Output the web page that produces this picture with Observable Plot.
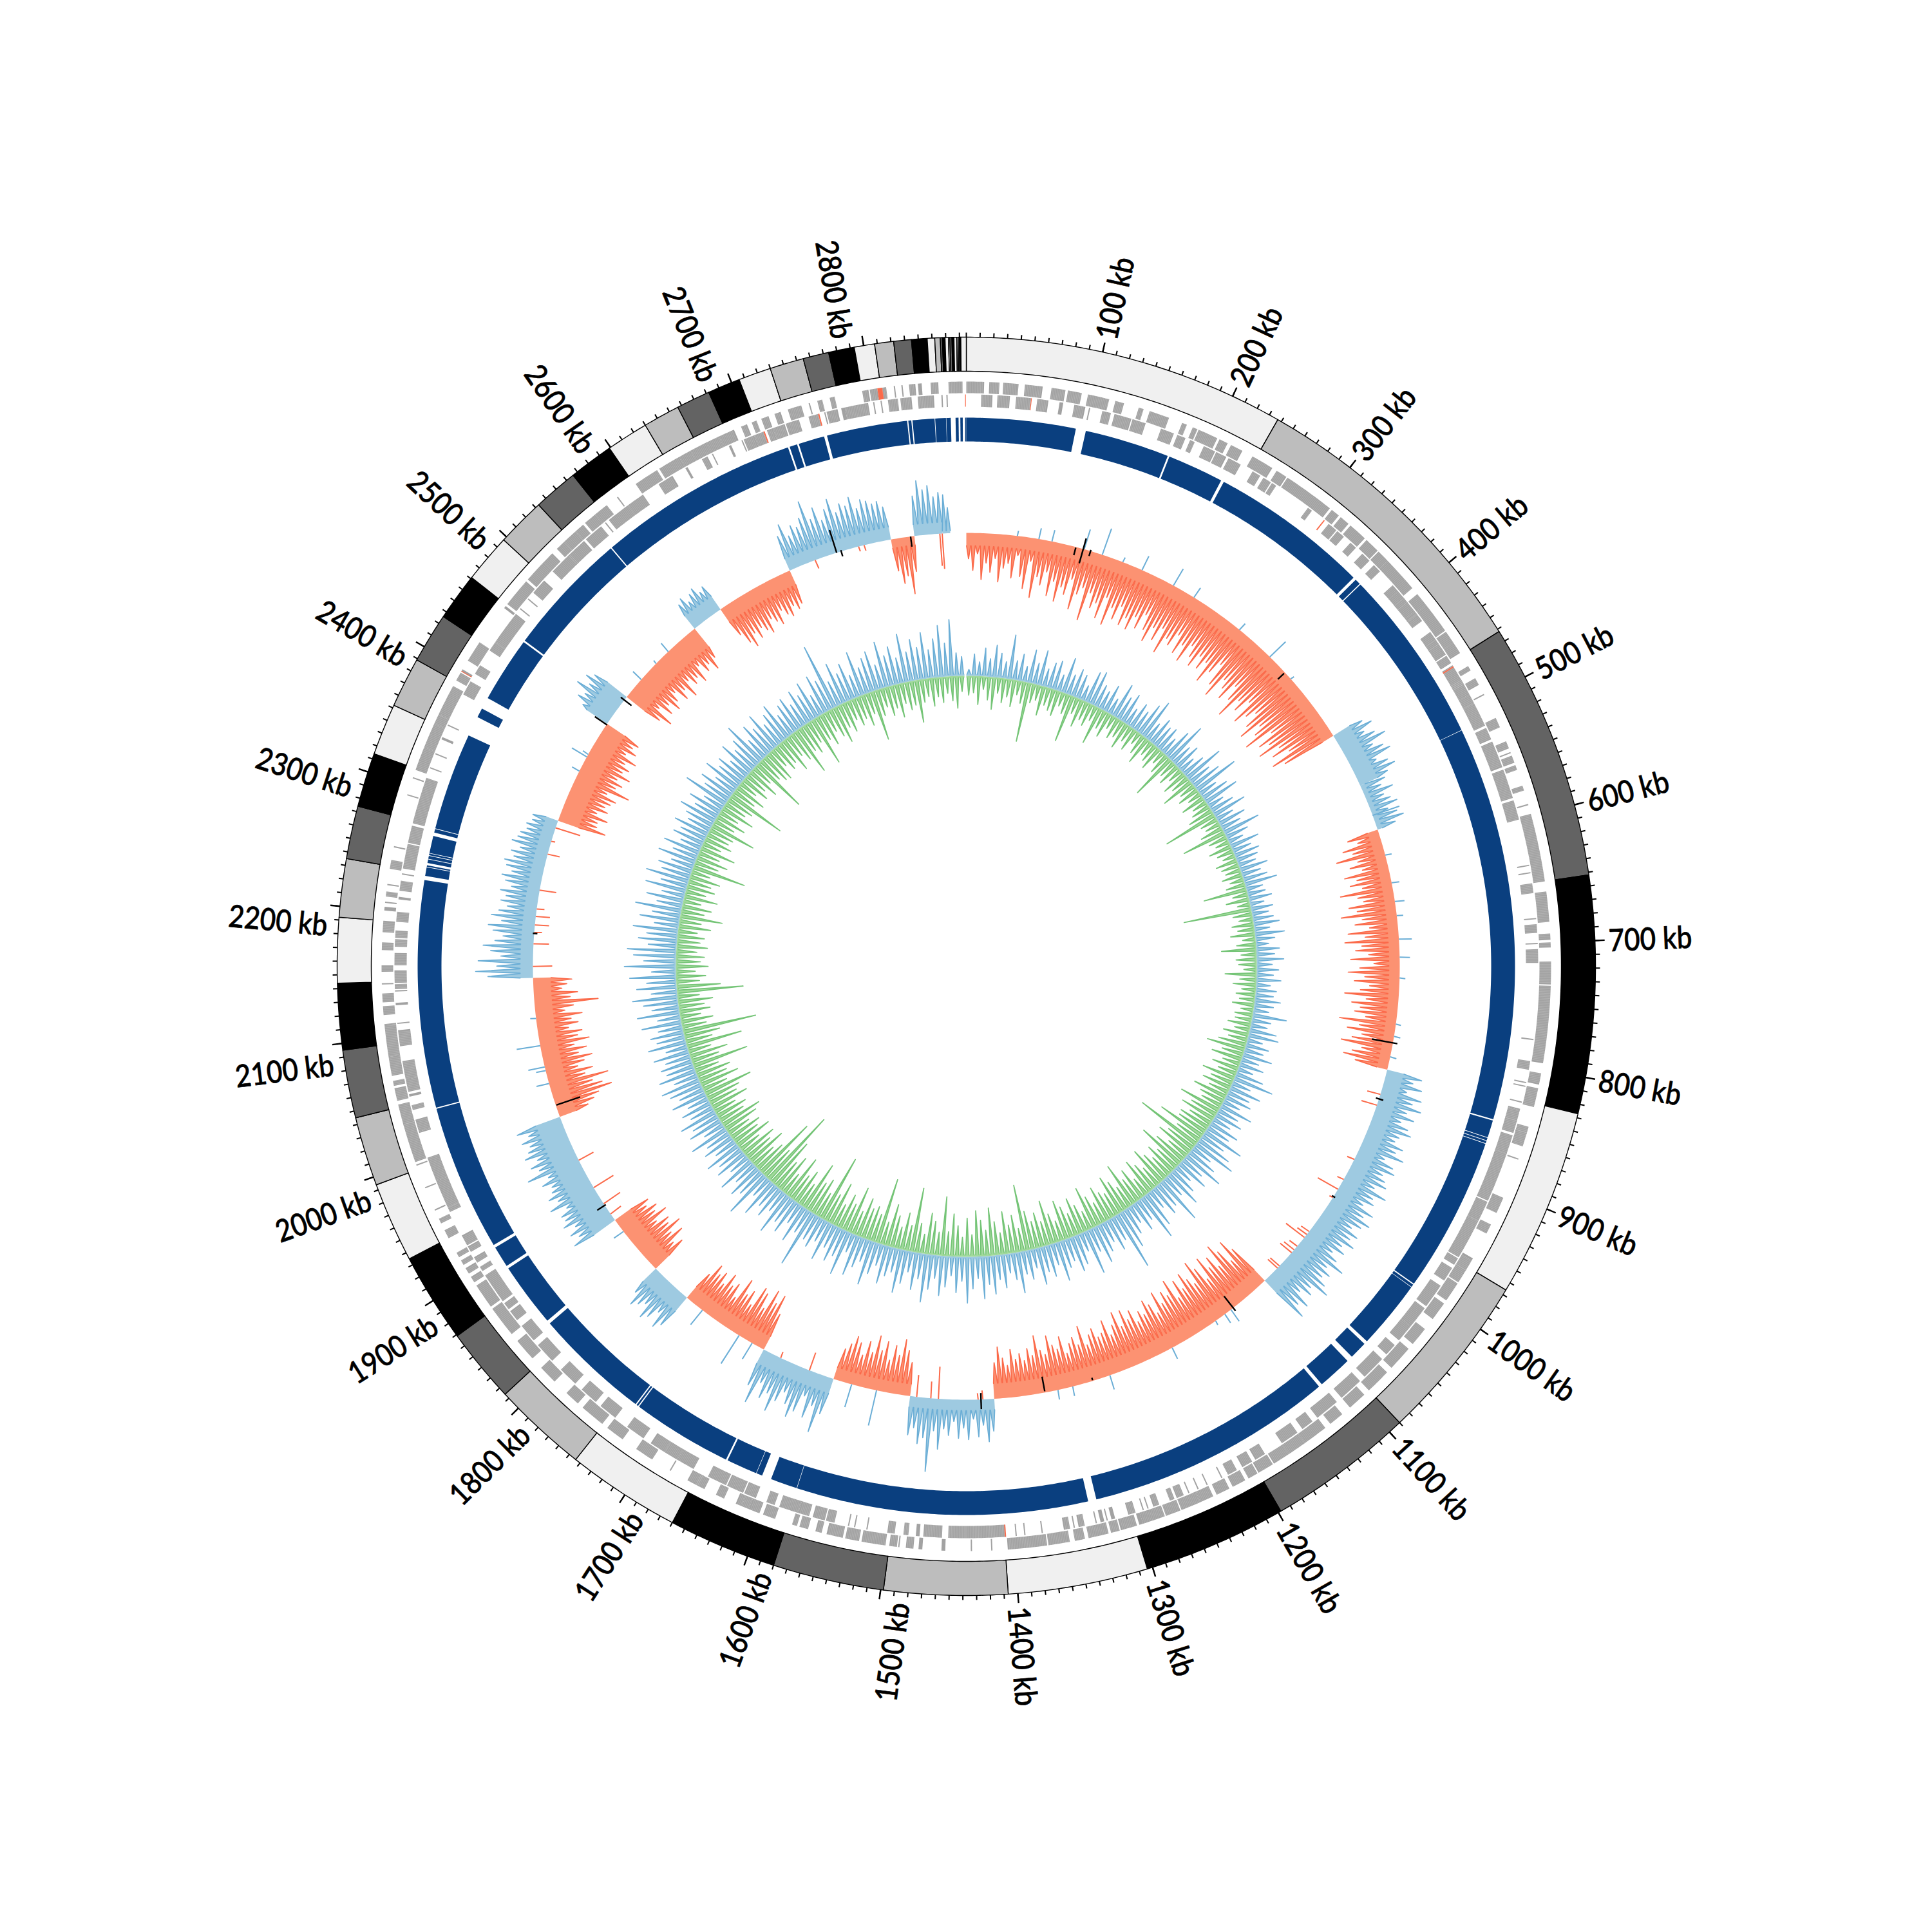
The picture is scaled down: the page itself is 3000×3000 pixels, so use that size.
<!DOCTYPE html>
<html><head><meta charset="utf-8">
<script src="https://cdn.jsdelivr.net/npm/d3@7"></script>
<script src="https://cdn.jsdelivr.net/npm/@observablehq/plot@0.6"></script>
<style>html,body{margin:0;padding:0;background:#fff}svg{display:block}</style>
</head><body><div id="chart"></div>
<script>
const genomeKb = 2875;
const contigStarts = [0,237,462,652,827,966,1090,1198,1304,1407,1498,1580,1660,1744,1814,1869,1935,1994,2045,2095,2144,2192,2235,2274,2314,2352,2389,2426,2461,2497,2533,2566,2599,2630,2657,2682,2706,2730,2755,2774,2793,2808,2822,2835,2846.5,2852,2856,2857.5,2859.5,2862,2863,2864.5,2866,2868,2869,2870,2871];
const contigColors = ["#f0f0f0","#bdbdbd","#636363","#000000"];
const blueGaps = [[92,100.5],[172,173.5],[221,223.5],[358.5,361],[365.8,366.6],[515,515.4],[848,849.2],[863.8,864.3],[866.5,867],[869,869.5],[1001,1002],[1004.3,1004.7],[1063,1066],[1081,1086],[1115,1118],[1328,1335],[1581,1581.4],[1604,1612],[1617,1617.4],[1643.5,1645],[1730,1731],[1732.5,1733.5],[1832,1835],[1889.5,1892],[1910,1912.5],[2036,2037],[2228.5,2232],[2239.3,2239.8],[2241,2243],[2246,2246.5],[2249,2249.5],[2251,2251.5],[2266,2269],[2272,2272.6],[2355,2372],[2380,2390],[2445.5,2447],[2552.5,2553.5],[2723.5,2725],[2731.5,2733],[2755,2757.5],[2825.5,2826.5],[2829,2830],[2848.5,2849],[2858,2858.3],[2862,2866],[2868.5,2870],[2872,2874]];
const geneRow1 = [0,14,18,26,29,41,46,60,67,78,80,91,96,113,118,125,137,141,146,162,173,177,182,186,187,203,205,212,215,225,234,252,256,265,266,307,309,316,318,326,328,343,345,357,358,368,368,397,403,414,414,439,440,450,450,460,472,476,483,489,497,498,518,526,538,544,547,548,550,556,558,562,575,579,590,591,598,652,660,664,663,684,693,698,700,704,715,733,734,795,803,812,815,830,846,852,850,862,872,873,905,918,928,936,958,960,960,970,968,980,981,997,1000,1015,1025,1040,1045,1065,1070,1090,1095,1110,1118,1130,1135,1155,1155,1170,1170,1184,1185,1198,1199,1207,1210,1221,1224,1235,1238,1249,1249,1265,1266,1278,1279,1297,1297,1300,1302,1315,1316,1323,1325,1341,1344,1352,1356,1373,1374,1405,1417,1418,1433,1434,1454,1457,1472,1475,1479,1485,1490,1491,1492,1498,1501,1520,1522,1533,1535,1548,1552,1557,1563,1570,1572,1576,1590,1600,1603,1612,1612,1618,1618,1623,1633,1640,1650,1658,1655,1665,1680,1681,1697,1712,1725,1740,1745,1765,1770,1782,1795,1810,1820,1838,1845,1870,1872,1892,1895,1900,1903,1908,1911,1915,1918,1922,1935,1942,1948,1952,1959,1960,1978,1979,1997,1998,2000,2032,2030,2036,2035,2047,2050,2060,2062,2066,2070,2085,2085,2110,2110,2111,2118,2125,2128,2135,2142,2143,2152,2157,2169,2175,2183,2192,2200,2203,2206,2207,2211,2215,2220,2221,2233,2240,2250,2251,2292,2293,2306,2307,2313,2322,2321,2332,2332,2352,2352,2360,2360,2385,2390,2397,2398,2400,2408,2425,2458,2460,2462,2485,2487,2505,2505,2515,2520,2528,2528,2540,2540,2548,2550,2560,2560,2572,2582,2583,2600,2620,2622,2640,2640,2650,2650,2665,2664,2675,2675,2688,2694,2699,2703,2707,2711,2717,2722,2727,2733,2744,2750,2751,2757,2761,2767,2771,2793,2798,2799,2805,2808,2812,2818,2819,2824,2825,2830,2835,2837,2840,2847,2853,2861,2872];
const geneRow2 = [12,21,25,35,40,52,57,66,75,78,87,96,99,100,110,117,120,134,135,146,159,170,173,180,184,188,196,206,207,216,218,229,240,247,250,257,258,262,293,297,314,322,323,330,337,343,350,358,363,370,385,392,391,400,398,404,402,412,412,416,414,422,433,442,440,446,444,455,456,463,465,484,478,492,492,500,500,520,522,532,534,556,558,582,584,600,637,638,643,644,652,660,680,681,685,692,700,701,705,716,777,778,795,802,812,813,815,816,828,829,834,835,835,845,843,854,856,872,871,912,913,930,930,963,964,970,973,985,990,1010,1012,1030,1030,1045,1050,1060,1065,1085,1090,1110,1115,1135,1140,1150,1155,1170,1186,1195,1198,1207,1212,1220,1225,1226,1238,1239,1246,1247,1254,1255,1259,1265,1267,1271,1280,1285,1289,1290,1293,1294,1300,1306,1317,1320,1323,1324,1326,1329,1332,1333,1342,1347,1350,1351,1354,1359,1376,1377,1390,1391,1397,1398,1406,1437,1437,1452,1457,1472,1475,1478,1484,1488,1495,1501,1517,1518,1527,1528,1532,1533,1544,1551,1552,1562,1565,1574,1574,1590,1594,1601,1610,1620,1621,1635,1636,1652,1665,1680,1680,1692,1692,1705,1712,1728,1740,1755,1760,1775,1782,1798,1808,1825,1830,1845,1851,1860,1862,1868,1870,1895,1899,1903,1907,1912,1917,1922,1923,1932,1953,1957,1957,1980,1980,2000,2021,2022,2022,2032,2040,2044,2051,2053,2055,2065,2065,2080,2092,2105,2110,2111,2125,2127,2136,2137,2138,2142,2143,2153,2157,2167,2172,2178,2179,2185,2192,2200,2210,2212,2217,2225,2230,2231,2235,2255,2256,2270,2272,2310,2318,2319,2330,2331,2343,2345,2355,2356,2383,2395,2402,2410,2424,2432,2432,2460,2465,2466,2475,2476,2482,2495,2505,2525,2522,2540,2530,2531,2542,2558,2562,2563,2566,2585,2585,2600,2615,2628,2640,2642,2655,2660,2664,2665,2679,2681,2690,2691,2692,2701,2701,2709,2712,2717,2717,2727,2728,2739,2747,2755,2760,2761,2762,2771,2774,2777,2777,2796,2800,2801,2806,2807,2812,2820,2822,2831,2836,2849,2855,2856,2859,2860];
const redRow1 = [2805,2809,2398,2398.6];
const redRow2 = [2874,2874.6,2755,2756,2709,2710,1405.6,1406.6,52,52.6,309,310,466,467];

const skewStart = [0,462,522,572,829,1090,1408,1497,1580,1660,1758,1803,1870,1994,2144,2313,2428,2463,2565,2599,2683,2795,2820,2850];
const skewEnd = [462,522,572,829,1090,1408,1497,1580,1660,1758,1803,1870,1994,2144,2313,2428,2463,2565,2599,2683,2795,2820,2850,2858];
const skewSign = [-1,1,1,-1,1,-1,1,-1,1,-1,1,-1,1,-1,1,-1,1,-1,1,-1,1,-1,1,1];
const skewBand = [20,30,8,17,27,24,17,19,24,23,28,30,40,28,20,34,38,36,25,24,20,14,18,4];
const skewValues = [
[40,58,32,72,46,60,38,74,52,44,66,30,62,80,36,92,58,70,48,84,60,90,66,76,50,96,70,58,108,62,84,74,96,60,102,72,88,64,92,78,94,70,86,60,82,98,72,90,66,104,76,84,62,90,72,96,64,80,92,70,88,72,102,80,60,94,110,74,86,100,70,92,118,82,96,72,108,90,76,100,116,84,98,120,76,104,90,112,80,96,70,104,86],
[50,62,44,58,72,46,60,68,40,56,64,48],
[40,30,46,28,36,44,26,38,46,30],
[50,36,62,48,76,44,58,40,70,52,64,46,82,56,48,72,60,86,54,66,44,78,52,84,58,68,48,76,40,62,80,54,70,46,60,84,50,72,58,66,48,88,56,74,50,64,80,46,60,72,52],
[56,44,60,38,64,52,68,48,62,44,58,66,50,46,62,54,70,42,60,66,50,58,64,48,72,54,60,46,68,56,72,62,50,66,58,70,54,64,48,62,80,56,68,60,72,84,58,66,50,74,62,80],
[70,90,58,82,98,64,86,72,94,60,84,100,66,78,92,70,88,62,96,74,84,68,90,58,76,86,66,74,60,82,70,88,64,90,72,58,84,66,62,78,70,56,88,60,74,66,52,80,62,70,86,58,66,90,60,72,54,66,58,74,50,62,80,56],
[50,66,40,58,30,62,44,60,34,56,46,78,50,114,62,72,48,60],
[52,70,86,60,74,50,78,62,84,56,72,48,66,74,60,50],
[58,90,50,72,40,68,80,62,46,64,84,58,70,48,85,60],
[60,88,72,90,56,78,84,50,70,60,82,46,66,58,74,52,68,60,72,50],
[58,68,46,62,70,50,58,66,48],
[60,48,72,56,79,62,68,50,74,58,66,52,60],
[74,60,70,56,72,64,66,52,76,58,70,60,56,68,54,85,62,72,58,75,66,60,70,56,72],
[48,60,70,93,80,66,93,58,72,50,62,76,56,70,52,77,60,68,48,64,54,72,46,60,99,56,68,44,52,60],
[70,89,56,85,50,66,78,60,48,64,72,52,69,58,46,57,50,60,44,55,62,48,58,63,50,56,44,59,52,50,42,45,38,40],
[76,60,58,72,52,67,60,66,72,54,88,62,70,58,76,60,68,57,72,50,64,54,60],
[48,62,55,75,58,70,60],
[62,79,50,70,58,74,64,52,72,60,78,54,66,60,72,48,64,56,70,54],
[44,50,38,47,52,40,45],
[50,68,79,60,72,58,66,74,54,62,70,50,60,66,52,60,54],
[56,72,50,64,58,70,94,62,78,55,70,84,60,72,66,78,58,70,66,60,62,52],
[50,71,60,89,55],
[62,85,70,76,58,64],
[60,40]];
const skewOppKb = [54,77,91,126,146,169,191,228,253,312,355,387,556,600,630,650,665,690,709,731,780,793,815,1137,1145,1157,1211,1283,1324,1340,1533,1560,1674,1690,1737,1855,2031,2045,2049,2072,2101,2370,2387,2390,2487,2510,2528,856,868,930,954,966,976,1020,1024,1028,1040,1045,1049,1068,1071,2156,2180,2192,2200,2209,2217,2237,2276,2290,2305,1878,1891,1911,1944,1607,1640,1420,1425,1467,1475,1490,2712,2760,2766,2847,2849.5];
const skewOppV = [8,17,18,32,43,8,24,30,18,13,34,6,44,10,12,15,10,20,16,9,8,10,10,22,16,7,19,23,15,15,56,37,29,52,29,18,20,15,26,37,9,13,27,10,18,6,17,-21,-25,-12,-11,-36,-6,-15,-18,-36,-15,-20,-23,-19,-20,-30,-24,-12,-22,-22,-12,-26,-19,-6,-40,-20,-31,-36,-26,-29,-10,-14,-10,-50,-26,-34,-14,-8,-9,-50,-55];
const blackKb = [117,125,133,378,800,861,975,1134,1354,1302,1422,2007,1889,2459,2427,2191,2736,2741,2816];
const blackIn = [660,650,665,658,640,668,670,650,648,668,663,633,671,659,672,668,673,665,657];
const blackOut = [672,690,675,671,680,680,676,679,671,672,688,672,687,680,695,675,710,675,673];

const gcStepKb = 8;
const gcUp = [
10,34,22,44,28,50,38,26,69,30,42,24,52,33,55,28,40,46,26,56,32,44,38,24,50,
54,36,30,44,26,55,38,48,28,42,34,52,64,30,44,36,40,28,48,67,34,42,26,38,64,
36,48,72,30,44,56,26,38,54,28,44,32,59,36,24,46,30,40,34,28,44,30,38,51,26,
28,36,22,34,26,32,40,24,46,30,20,36,28,42,24,34,26,38,22,32,28,40,30,24,53,
30,26,42,47,24,36,30,46,28,38,24,44,63,30,50,36,42,28,52,34,44,30,48,38,66,
40,56,69,34,48,66,38,52,30,44,60,36,76,42,50,32,58,74,36,48,30,44,62,92,40,
52,34,46,60,38,70,30,48,56,36,44,62,34,50,40,58,30,46,36,64,42,30,52,38,60,
44,66,34,50,72,38,56,30,48,62,36,54,75,40,58,32,52,68,38,46,60,34,50,70,36,
48,64,30,70,44,56,38,62,36,50,42,91,40,60,34,56,44,68,36,52,40,62,34,76,46,
56,38,60,34,52,42,58,36,50,40,62,34,54,44,60,38,48,34,56,40,52,62,38,59,44,
50,40,56,34,60,44,52,38,62,36,66,42,54,70,40,62,46,72,38,80,50,66,76,44,60,
48,70,38,62,44,72,40,58,36,64,42,68,46,54,36,60,40,58,34,50,42,56,38,46,60,
40,54,34,72,44,56,36,60,42,50,34,58,40,52,71,36,56,44,62,38,50,60,36,48,54,
38,56,44,60,34,62,50,104,40,66,46,58,36,70,42,54,62,38,72,48,60,40,76,46,64,
50,72,44,60,80,52,88,36,30];
const gcDown = [
30,26,44,20,36,50,24,38,28,42,22,34,93,30,24,46,28,34,40,22,32,74,26,44,30,
36,24,59,30,40,22,34,28,42,26,36,20,32,44,24,30,38,22,34,72,28,36,24,40,30,
52,26,34,22,38,24,30,40,86,28,24,36,70,30,22,36,26,20,34,28,24,32,22,30,68,
24,36,20,106,30,22,34,26,38,20,30,54,24,32,28,20,49,26,36,22,30,24,34,20,28,
26,36,24,40,30,44,60,34,48,28,42,30,52,36,46,32,54,40,34,66,44,56,38,50,48,
77,42,105,48,60,36,54,76,40,52,36,48,62,34,46,58,30,52,40,70,36,50,62,38,44,
56,34,48,66,30,44,58,36,50,62,32,46,69,38,54,42,60,103,36,58,44,66,34,52,74,
40,56,71,34,60,30,48,66,38,92,36,52,64,30,46,100,40,58,34,50,66,36,103,44,54,
48,62,38,74,44,56,36,68,46,105,40,60,50,78,38,56,44,70,36,62,48,80,126,54,100,
52,40,64,46,58,36,60,44,52,38,56,66,42,50,36,60,46,54,77,40,62,46,54,38,88,
44,60,36,87,42,56,115,38,50,32,48,40,54,34,103,68,36,46,30,50,38,44,32,48,36,
42,30,50,34,66,36,46,28,52,32,44,36,48,30,84,38,50,34,56,30,44,36,40,72,34,
48,32,54,36,44,93,38,50,30,46,36,52,34,89,40,48,51,32,44,38,56,36,48,75,42,
50,36,77,40,52,34,46,59,38,48,32,44,36,50,34,78,42,30,46,36,52,32,44,38,66,
36,28,44,30,40,26,38,50,24];

const tickMajor = d3.range(100, 2801, 100);
const tickMinor = d3.range(0, genomeKb, 10);

// geometry of the tracks (radius in the plot's own units)
const R = {ideoIn:924, ideoOut:977, g1In:890, g1Out:908, g2In:869, g2Out:888, blueIn:815, blueOut:852, skew:673, gc:451};
const px = (kb, r) => r * Math.sin(kb / genomeKb * 2 * Math.PI);
const py = (kb, r) => -r * Math.cos(kb / genomeKb * 2 * Math.PI);
const pt = (kb, r, id, fill) => ({x: px(kb, r), y: py(kb, r), id, fill});

let nextId = 0;
function sector(a, b, r0, r1, fill) {
  const id = nextId++, out = [], n = Math.max(1, Math.ceil((b - a) / 3));
  for (let i = 0; i <= n; i++) out.push(pt(a + (b - a) * i / n, r1, id, fill));
  for (let i = n; i >= 0; i--) out.push(pt(a + (b - a) * i / n, r0, id, fill));
  return out;
}
const pairs = a => d3.range(0, a.length, 2).map(i => [a[i], a[i + 1]]);

const ideogram = contigStarts.flatMap((s, i) => sector(s, contigStarts[i + 1] ?? genomeKb, R.ideoIn, R.ideoOut, contigColors[i % 4]));

const blueSpans = [];
let cursor = 0;
for (const [a, b] of blueGaps) { blueSpans.push([cursor, a]); cursor = b; }
blueSpans.push([cursor, genomeKb]);
const blueRing = blueSpans.flatMap(([a, b]) => sector(a, b, R.blueIn, R.blueOut, "#0a3f7f"));

const genes = [
  ...pairs(geneRow1).flatMap(([a, b]) => sector(a, b, R.g1In, R.g1Out, "#a2a2a2")),
  ...pairs(geneRow2).flatMap(([a, b]) => sector(a, b, R.g2In, R.g2Out, "#a2a2a2")),
  ...pairs(redRow1).flatMap(([a, b]) => sector(a, b, R.g1In, R.g1Out, "#fb6a4a")),
  ...pairs(redRow2).flatMap(([a, b]) => sector(a, b, R.g2In, R.g2Out, "#fb6a4a"))
];
// fine pale rules give the gene blocks the striped look of many short genes
const stripes = (spans, r0, r1) => spans.filter(([a, b]) => b - a > 3).flatMap(([a, b]) =>
  d3.range(a + 0.9, b - 0.4, 1.3).map(kb => ({x1: px(kb, r0), y1: py(kb, r0), x2: px(kb, r1), y2: py(kb, r1)})));
const geneStripes = [...stripes(pairs(geneRow1), R.g1In, R.g1Out), ...stripes(pairs(geneRow2), R.g2In, R.g2Out)];

// a block of windows: a filled polygon from the baseline, with one narrow spike per value
function spikes(start, end, sign, band, halfWidth, values, base, fillC, strokeC, fills, lines) {
  const step = (end - start) / values.length;
  const id = nextId++;
  const poly = [pt(start, base + sign * band, id, fillC)];
  values.forEach((v, i) => {
    const mid = start + step * (i + 0.5), lid = nextId++;
    const a = pt(mid - halfWidth, base + sign * band, id, fillC);
    const tip = pt(mid, base + sign * v, id, fillC);
    const b = pt(mid + halfWidth, base + sign * band, id, fillC);
    poly.push(a, tip, b);
    lines.push({...a, id: lid, stroke: strokeC}, {...tip, id: lid, stroke: strokeC}, {...b, id: lid, stroke: strokeC});
  });
  poly.push(pt(end, base + sign * band, id, fillC));
  // return along the baseline arc so the polygon hugs the ring
  const n = Math.ceil((end - start) / 3);
  for (let i = n; i >= 0; i--) poly.push(pt(start + (end - start) * i / n, base, id, fillC));
  fills.push(...poly);
}

const fillPolys = [], linePolys = [];
skewValues.forEach((vals, i) => {
  const up = skewSign[i] > 0;
  spikes(skewStart[i], skewEnd[i], skewSign[i], skewBand[i], 2.2, vals, R.skew,
    up ? "#9ecae1" : "#fc9272", up ? "#6baed6" : "#fb6a4a", fillPolys, linePolys);
});
spikes(0, gcUp.length * gcStepKb, 1, 3, 2.6, gcUp, R.gc, "#9ecae1", "#6baed6", fillPolys, linePolys);
spikes(0, gcDown.length * gcStepKb, -1, 3, 2.6, gcDown, R.gc, "#a1d99b", "#74c476", fillPolys, linePolys);

const oppLinks = skewOppKb.map((kb, i) => ({
  x1: px(kb, R.skew), y1: py(kb, R.skew),
  x2: px(kb + 0.6, R.skew + skewOppV[i]), y2: py(kb + 0.6, R.skew + skewOppV[i]),
  stroke: skewOppV[i] > 0 ? "#6baed6" : "#fb6a4a"
}));
const blackLinks = blackKb.map((kb, i) => ({
  x1: px(kb, blackIn[i]), y1: py(kb, blackIn[i]), x2: px(kb, blackOut[i]), y2: py(kb, blackOut[i])
}));
const radial = (kb, r0, r1) => ({x1: px(kb, r0), y1: py(kb, r0), x2: px(kb, r1), y2: py(kb, r1)});
const minorTicks = tickMinor.map(kb => radial(kb, R.ideoOut, R.ideoOut + 7));
const majorTicks = tickMajor.map(kb => radial(kb, R.ideoOut, R.ideoOut + 15));
const labels = tickMajor.map(kb => {
  const deg = kb / genomeKb * 360, right = deg < 180;
  // left-half labels sit a little counter-clockwise of their tick, as in the source figure
  const at = right ? kb + 1 : kb - 15, r = right ? 998 : 994;
  return {x: px(at, r), y: py(at, r), text: `${kb} kb`, rotate: right ? deg - 90 : deg + 90, right};
});

const textOpts = {x: "x", y: "y", text: "text", rotate: "rotate", fontSize: 48, fontWeight: 500, fontFamily: "Lato, Liberation Sans, sans-serif", fill: "#000", stroke: "#000", strokeWidth: 0.7, lineAnchor: "middle", className: "kb-label"};

const chart = Plot.plot({
  width: 3000, height: 3000, margin: 0,
  x: {domain: [-1500, 1500], range: [0, 3000], axis: null},
  y: {domain: [-1500, 1500], range: [0, 3000], axis: null},
  color: {type: "identity"},
  style: {background: "#fff"},
  marks: [
    Plot.line(ideogram, {x: "x", y: "y", z: "id", fill: "fill", stroke: "#000", strokeWidth: 1.4, curve: "linear-closed"}),
    Plot.link(minorTicks, {x1: "x1", y1: "y1", x2: "x2", y2: "y2", stroke: "#000", strokeWidth: 2}),
    Plot.link(majorTicks, {x1: "x1", y1: "y1", x2: "x2", y2: "y2", stroke: "#000", strokeWidth: 2.4}),
    Plot.line(genes, {x: "x", y: "y", z: "id", fill: "fill", stroke: "none", curve: "linear-closed"}),
    Plot.link(geneStripes, {x1: "x1", y1: "y1", x2: "x2", y2: "y2", stroke: "#fff", strokeOpacity: 0.22, strokeWidth: 0.8}),
    Plot.line(blueRing, {x: "x", y: "y", z: "id", fill: "fill", stroke: "none", curve: "linear-closed"}),
    Plot.line(fillPolys, {x: "x", y: "y", z: "id", fill: "fill", stroke: "none", curve: "linear-closed"}),
    Plot.line(linePolys, {x: "x", y: "y", z: "id", stroke: "stroke", strokeWidth: 1.7}),
    Plot.link(oppLinks, {x1: "x1", y1: "y1", x2: "x2", y2: "y2", stroke: "stroke", strokeWidth: 2}),
    Plot.link(blackLinks, {x1: "x1", y1: "y1", x2: "x2", y2: "y2", stroke: "#000", strokeWidth: 2.4}),
    Plot.text(labels.filter(d => d.right), {...textOpts, textAnchor: "start"}),
    Plot.text(labels.filter(d => !d.right), {...textOpts, textAnchor: "end"})
  ]
});
// the source labels use a condensed face: narrow them along their own direction
d3.select(chart).selectAll(".kb-label text").attr("transform", function () {
  return this.getAttribute("transform") + " scale(0.88,1)";
});
document.getElementById("chart").append(chart);
</script></body></html>
